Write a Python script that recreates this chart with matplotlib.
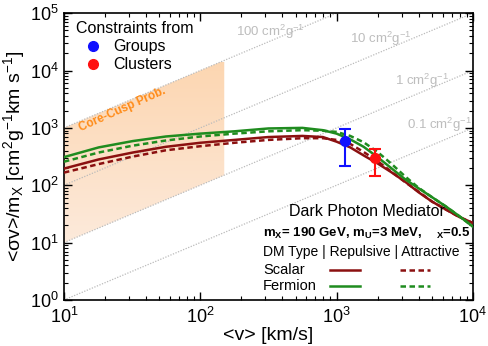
import numpy as np
import matplotlib.pyplot as plt
from matplotlib.lines import Line2D
from matplotlib.colors import LinearSegmentedColormap

plt.rcParams['font.family'] = ['Liberation Sans', 'DejaVu Sans']
plt.rcParams['mathtext.default'] = 'regular'

# velocity grid (km/s)
v = [10, 18, 32, 56, 100, 178, 316, 562, 794, 1000, 1260, 1580, 2000,
     2510, 3160, 3980, 5010, 6310, 7940, 10000]

# <sigma v>/m_X (cm^2 g^-1 km s^-1)
scalar_rep = [195, 282, 372, 468, 550, 617, 692, 724, 692, 575, 457, 331, 240,
              170, 117, 76, 52, 38, 28, 22]
scalar_att = [166, 234, 316, 407, 479, 550, 617, 661, 661, 617, 525, 380, 263,
              174, 115, 78, 52, 38, 28, 22]
fermion_rep = [309, 457, 589, 708, 794, 871, 977, 1000, 912, 794, 631, 468, 309,
               200, 129, 89, 62, 43, 29, 19]
fermion_att = [257, 372, 490, 603, 708, 794, 871, 912, 891, 851, 724, 562, 380,
               240, 145, 91, 62, 43, 29, 19]

# observational constraints: v, value, lower, upper
groups = (1150, 590, 215, 955)
clusters = (1900, 294, 146, 427)

# constant sigma/m lines (cm^2/g)
sigma_m = [100, 10, 1, 0.1]
sigma_labels = ['100 cm$^2$g$^{-1}$', '10 cm$^2$g$^{-1}$', '1 cm$^2$g$^{-1}$', '0.1 cm$^2$g$^{-1}$']
# core-cusp band
band_v = [10, 150]
band_lo, band_hi = 1, 100

dark_red = '#8b1010'
green = '#1f8c1f'
dash = (0, (2.2, 1.4))

fig = plt.figure(figsize=(4.88, 3.46), dpi=100)
ax = fig.add_axes([0.131, 0.133, 0.838, 0.829])
ax.set_xscale('log')
ax.set_yscale('log')

# band with vertical gradient (clipped to the band polygon)
bv = np.logspace(np.log10(band_v[0]), np.log10(band_v[1]), 50)
poly = ax.fill_between(bv, band_lo * bv, band_hi * bv, color='none', lw=0)
grad = np.linspace(0, 1, 256).reshape(-1, 1)
cmap = LinearSegmentedColormap.from_list('band', ['#fdeadb', '#fcd6b1'])
img = ax.imshow(grad, aspect='auto', cmap=cmap, origin='lower',
                extent=[0, 1, 0.2, 0.83], transform=ax.transAxes, zorder=0.5)
img.set_clip_path(poly.get_paths()[0], transform=ax.transData)

# constant sigma/m lines
vl = np.logspace(1, 4, 50)
for s in sigma_m:
    ax.plot(vl, s * vl, ls=(0, (1, 1.2)), color='#bbbbbb', lw=0.9, zorder=1)

gray_txt = dict(transform=ax.transAxes, color='#bdbdbd', fontsize=9.5, ha='left', va='center')
ax.text(0.42, 0.935, sigma_labels[0], **gray_txt)
ax.text(0.70, 0.91, sigma_labels[1], **gray_txt)
ax.text(0.81, 0.765, sigma_labels[2], **gray_txt)
ax.text(0.838, 0.61, sigma_labels[3], **gray_txt)

ax.text(0.142, 0.665, 'Core-Cusp Prob.', transform=ax.transAxes, color='#ff8c1a',
        fontsize=8.5, fontweight='bold', rotation=24, ha='center', va='center')

# model curves
ax.plot(v, scalar_rep, color=dark_red, lw=1.8, zorder=3)
ax.plot(v, scalar_att, color=dark_red, lw=1.8, ls=dash, zorder=3)
ax.plot(v, fermion_rep, color=green, lw=1.8, zorder=3)
ax.plot(v, fermion_att, color=green, lw=1.8, ls=dash, zorder=3)

# data points
for (x, y, lo, hi), c in [(groups, '#1010ff'), (clusters, '#ff1010')]:
    ax.errorbar([x], [y], yerr=[[y - lo], [hi - y]], fmt='o', color=c, ms=7,
                capsize=4, elinewidth=1.5, capthick=1.5, zorder=4)

# upper-left legend
ax.text(0.03, 0.945, 'Constraints from', transform=ax.transAxes, fontsize=11.5, va='center')
ax.plot([0.072], [0.885], 'o', color='#1010ff', ms=7, transform=ax.transAxes)
ax.text(0.12, 0.885, 'Groups', transform=ax.transAxes, fontsize=11.5, va='center')
ax.plot([0.072], [0.822], 'o', color='#ff1010', ms=7, transform=ax.transAxes)
ax.text(0.12, 0.822, 'Clusters', transform=ax.transAxes, fontsize=11.5, va='center')

# lower-right legend
ax.text(0.74, 0.307, 'Dark Photon Mediator', transform=ax.transAxes, fontsize=11.5, ha='center', va='center')
ax.text(0.487, 0.233, 'm$_X$= 190 GeV, m$_U$=3 MeV,    $_X$=0.5', transform=ax.transAxes,
        fontsize=9.5, fontweight='bold', va='center')
ax.text(0.487, 0.167, 'DM Type | Repulsive | Attractive', transform=ax.transAxes, fontsize=10, va='center')
ax.text(0.487, 0.104, 'Scalar', transform=ax.transAxes, fontsize=10.5, va='center')
ax.text(0.487, 0.048, 'Fermion', transform=ax.transAxes, fontsize=10.5, va='center')
ax.add_line(Line2D([0.65, 0.723], [0.104, 0.104], color=dark_red, lw=1.8, transform=ax.transAxes))
ax.add_line(Line2D([0.822, 0.895], [0.104, 0.104], color=dark_red, lw=1.8, ls=dash, transform=ax.transAxes))
ax.add_line(Line2D([0.65, 0.723], [0.048, 0.048], color=green, lw=1.8, transform=ax.transAxes))
ax.add_line(Line2D([0.822, 0.895], [0.048, 0.048], color=green, lw=1.8, ls=dash, transform=ax.transAxes))

ax.set_xlim(10, 1e4)
ax.set_ylim(1, 1e5)
ax.tick_params(which='both', direction='in', top=True, right=True, labelsize=13)
ax.tick_params(which='major', length=6, width=1)
ax.tick_params(which='minor', length=3, width=0.8)
ax.tick_params(axis='x', pad=5)
for sp in ax.spines.values():
    sp.set_linewidth(1.2)

ax.set_xlabel('<v> [km/s]', fontsize=14, labelpad=0)
ax.set_ylabel('<σv>/m$_X$ [cm$^2$g$^{-1}$km s$^{-1}$]', fontsize=14, labelpad=2)

fig.savefig('out.png', dpi=100)
